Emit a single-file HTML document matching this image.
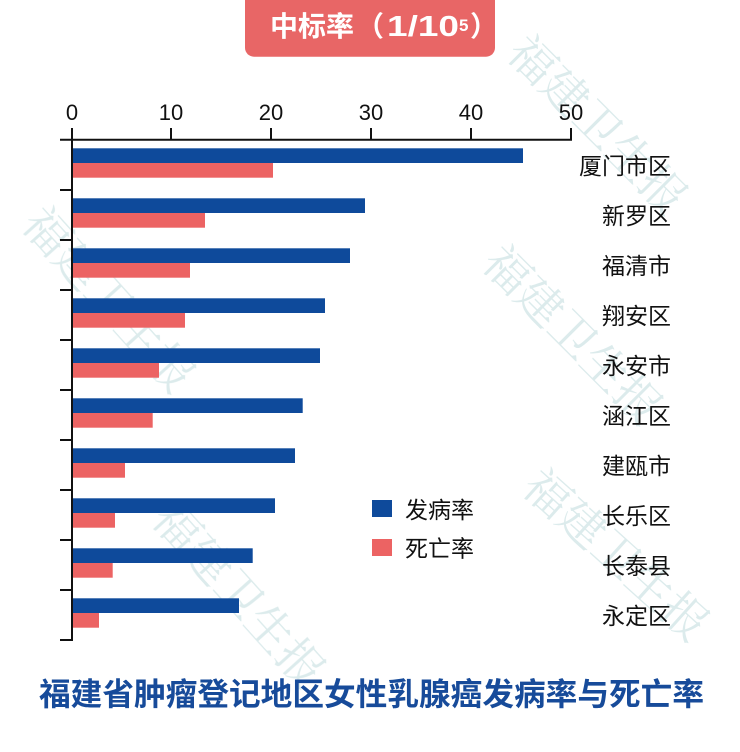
<!DOCTYPE html>
<html>
<head>
<meta charset="utf-8">
<style>
  html, body { margin: 0; padding: 0; background: #ffffff; width: 740px; height: 752px; overflow: hidden; }
  svg { display: block; }
  .cjk { font-family: "Liberation Sans", "Noto Sans CJK SC", sans-serif; }
  .wm { font-family: "Noto Serif CJK SC", "Liberation Serif", serif; fill: #d6e8e9; font-size: 46px; }
</style>
</head>
<body>
<svg width="740" height="752" viewBox="0 0 740 752" xmlns="http://www.w3.org/2000/svg" overflow="hidden">
  <rect x="0" y="0" width="740" height="752" fill="#ffffff"/>

  <!-- faint watermarks -->
  <g class="wm" opacity="0.85">
    <text x="20" y="225" transform="rotate(48 20 225)">福建卫生报</text>
    <text x="505" y="55" transform="rotate(45 505 55)">福建卫生报</text>
    <text x="480" y="265" transform="rotate(45 480 265)">福建卫生报</text>
    <text x="150" y="520" transform="rotate(48 150 520)">福建卫生报</text>
    <text x="520" y="490" transform="rotate(42 520 490)">福建卫生报</text>
  </g>

  <!-- title badge -->
  <rect x="245" y="-12" width="250" height="68.7" rx="9" ry="9" fill="#e86666"/>
  <text x="270" y="36" class="cjk" font-size="28" font-weight="bold" fill="#ffffff">中标率</text>
  <text x="356" y="36" class="cjk" font-size="28" font-weight="bold" fill="#ffffff">（</text>
  <text x="387" y="36" font-family="Liberation Sans, sans-serif" font-size="29" font-weight="bold" fill="#ffffff" textLength="72" lengthAdjust="spacingAndGlyphs">1/10</text>
  <text x="459" y="31" font-family="Liberation Sans, sans-serif" font-size="17" font-weight="bold" fill="#ffffff">5</text>
  <text x="470" y="36" class="cjk" font-size="28" font-weight="bold" fill="#ffffff">）</text>

  <!-- top axis tick labels -->
  <g font-family="Liberation Sans, sans-serif" font-size="22" fill="#111111" text-anchor="middle">
    <text x="72" y="120">0</text>
    <text x="171" y="120">10</text>
    <text x="271" y="120">20</text>
    <text x="371" y="120">30</text>
    <text x="471" y="120">40</text>
    <text x="571" y="120">50</text>
  </g>

  <!-- bars -->
  <g>
    <rect x="72.5" y="148.3" width="450.5" height="14.7" fill="#0e4a9b"/>
    <rect x="72.5" y="198.3" width="292.5" height="14.7" fill="#0e4a9b"/>
    <rect x="72.5" y="248.3" width="277.5" height="14.7" fill="#0e4a9b"/>
    <rect x="72.5" y="298.3" width="252.5" height="14.7" fill="#0e4a9b"/>
    <rect x="72.5" y="348.3" width="247.5" height="14.7" fill="#0e4a9b"/>
    <rect x="72.5" y="398.3" width="230.2" height="14.7" fill="#0e4a9b"/>
    <rect x="72.5" y="448.3" width="222.5" height="14.7" fill="#0e4a9b"/>
    <rect x="72.5" y="498.3" width="202.5" height="14.7" fill="#0e4a9b"/>
    <rect x="72.5" y="548.3" width="180.2" height="14.7" fill="#0e4a9b"/>
    <rect x="72.5" y="598.3" width="166.5" height="14.7" fill="#0e4a9b"/>
    <rect x="72.5" y="163" width="200.5" height="14.7" fill="#ec6363"/>
    <rect x="72.5" y="213" width="132.5" height="14.7" fill="#ec6363"/>
    <rect x="72.5" y="263" width="117.5" height="14.7" fill="#ec6363"/>
    <rect x="72.5" y="313" width="112.5" height="14.7" fill="#ec6363"/>
    <rect x="72.5" y="363" width="86.5" height="14.7" fill="#ec6363"/>
    <rect x="72.5" y="413" width="80.2" height="14.7" fill="#ec6363"/>
    <rect x="72.5" y="463" width="52.5" height="14.7" fill="#ec6363"/>
    <rect x="72.5" y="513" width="42.5" height="14.7" fill="#ec6363"/>
    <rect x="72.5" y="563" width="40.2" height="14.7" fill="#ec6363"/>
    <rect x="72.5" y="613" width="26.5" height="14.7" fill="#ec6363"/>
  </g>

  <!-- axes -->
  <g stroke="#111111" stroke-width="2" fill="none">
    <line x1="60" y1="139.7" x2="572" y2="139.7"/>
    <line x1="72" y1="139" x2="72" y2="641"/>
    <line x1="72" y1="128" x2="72" y2="140"/>
    <line x1="171" y1="128" x2="171" y2="140"/>
    <line x1="271" y1="128" x2="271" y2="140"/>
    <line x1="371" y1="128" x2="371" y2="140"/>
    <line x1="471" y1="128" x2="471" y2="140"/>
    <line x1="571" y1="128" x2="571" y2="140"/>
    <line x1="60" y1="190" x2="72" y2="190"/>
    <line x1="60" y1="240" x2="72" y2="240"/>
    <line x1="60" y1="290" x2="72" y2="290"/>
    <line x1="60" y1="340" x2="72" y2="340"/>
    <line x1="60" y1="390" x2="72" y2="390"/>
    <line x1="60" y1="440" x2="72" y2="440"/>
    <line x1="60" y1="490" x2="72" y2="490"/>
    <line x1="60" y1="540" x2="72" y2="540"/>
    <line x1="60" y1="590" x2="72" y2="590"/>
    <line x1="60" y1="640" x2="72" y2="640"/>
  </g>

  <!-- category labels -->
  <g class="cjk" font-size="23" fill="#111111" text-anchor="end">
    <text x="671" y="174">厦门市区</text>
    <text x="671" y="224">新罗区</text>
    <text x="671" y="274">福清市</text>
    <text x="671" y="324">翔安区</text>
    <text x="671" y="374">永安市</text>
    <text x="671" y="424">涵江区</text>
    <text x="671" y="474">建瓯市</text>
    <text x="671" y="524">长乐区</text>
    <text x="671" y="574">长泰县</text>
    <text x="671" y="624">永定区</text>
  </g>

  <!-- legend -->
  <rect x="372" y="500" width="20" height="17" fill="#0e4a9b"/>
  <rect x="372" y="539" width="20" height="17" fill="#ec6363"/>
  <text x="405" y="518" class="cjk" font-size="23" fill="#111111">发病率</text>
  <text x="405" y="556.5" class="cjk" font-size="23" fill="#111111">死亡率</text>

  <!-- bottom title -->
  <text x="39" y="705" class="cjk" font-size="31.5" font-weight="bold" fill="#174b9a" textLength="665" lengthAdjust="spacingAndGlyphs">福建省肿瘤登记地区女性乳腺癌发病率与死亡率</text>
</svg>
</body>
</html>
